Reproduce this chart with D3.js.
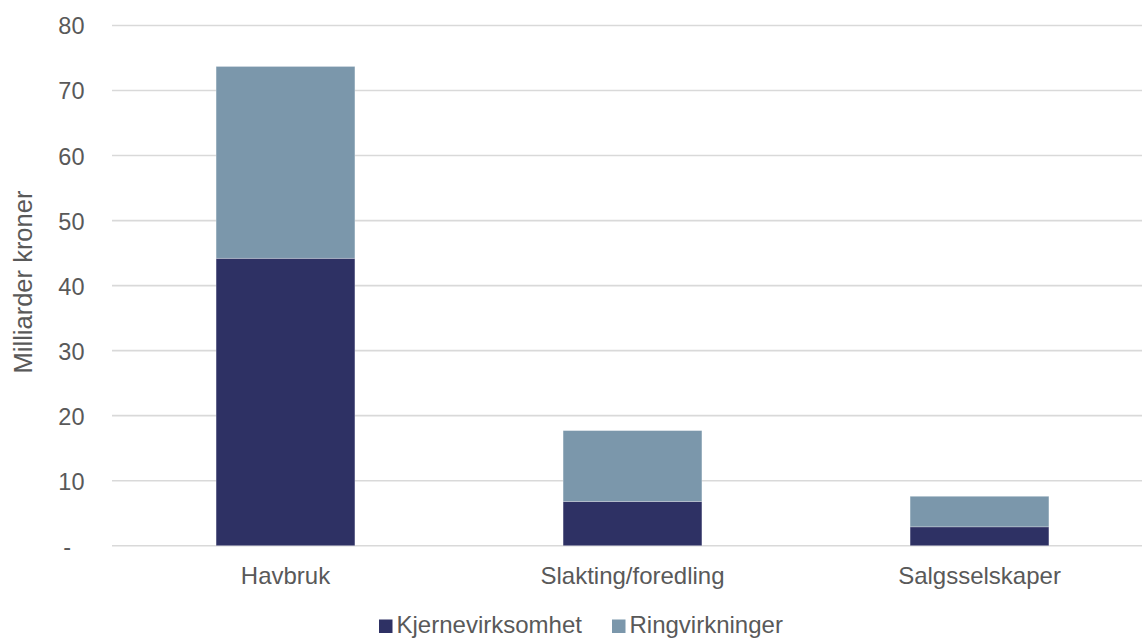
<!DOCTYPE html>
<html>
<head>
<meta charset="utf-8">
<script src="https://cdn.jsdelivr.net/npm/d3@7"></script>
<style>
  html, body { margin: 0; padding: 0; background: #fff; }
  svg { display: block; font-family: "Liberation Sans", Arial, sans-serif; }
</style>
</head>
<body>
<svg id="chart" width="1142" height="639"></svg>
<script>
const categories = ["Havbruk", "Slakting/foredling", "Salgsselskaper"];
const seriesNames = ["Kjernevirksomhet", "Ringvirkninger"];
const kjernevirksomhet = [44.2, 6.8, 2.9];
const ringvirkninger = [29.5, 10.9, 4.7];
const yTicks = [0, 10, 20, 30, 40, 50, 60, 70, 80];
const colors = ["#2e3164", "#7b97ab"];

(function () {
const svg = d3.select("#chart");
const W = 1142;
const mLeft = 112, mRight = 1153, mTop = 25.5, mBottom = 545.7;

const x = d3.scaleBand().domain(categories).range([mLeft, mRight])
  .paddingInner(0.6).paddingOuter(0.3);
const y = d3.scaleLinear().domain([0, 80]).range([mBottom, mTop]);

// gridlines
svg.append("g").selectAll("line").data(yTicks).join("line")
  .attr("x1", mLeft).attr("x2", W)
  .attr("y1", d => y(d)).attr("y2", d => y(d))
  .attr("stroke", "#d9d9d9").attr("stroke-width", 1.6);

// y tick labels
const yAxis = d3.axisLeft(y).tickValues(yTicks).tickSize(0).tickPadding(0)
  .tickFormat(d => d === 0 ? "-" : d3.format("d")(d));
const ya = svg.append("g").attr("transform", "translate(84.5,0)").call(yAxis);
ya.select(".domain").remove();
ya.selectAll("text").attr("fill", "#595959").attr("font-size", 23.5)
  .attr("font-family", "Liberation Sans, Arial, sans-serif").attr("dy", "0.36em");
ya.selectAll(".tick").filter(d => d === 0).select("text").attr("x", -13.5);

// stacked data
const table = categories.map((c, i) => ({ cat: c, Kjernevirksomhet: kjernevirksomhet[i], Ringvirkninger: ringvirkninger[i] }));
const stack = d3.stack().keys(seriesNames)(table);

svg.append("g").selectAll("g").data(stack).join("g")
  .attr("fill", (d, i) => colors[i])
  .selectAll("rect").data(d => d).join("rect")
  .attr("x", d => x(d.data.cat))
  .attr("width", x.bandwidth())
  .attr("y", d => y(d[1]))
  .attr("height", d => y(d[0]) - y(d[1]))
  .attr("stroke", "#ffffff").attr("stroke-opacity", 0.35).attr("stroke-width", 0.75);

// x labels
svg.append("g").selectAll("text").data(categories).join("text")
  .attr("x", d => x(d) + x.bandwidth() / 2)
  .attr("y", 584)
  .attr("text-anchor", "middle")
  .attr("fill", "#595959").attr("font-size", 24)
  .text(d => d);

// y title
svg.append("text")
  .attr("transform", "translate(32,282) rotate(-90)")
  .attr("text-anchor", "middle")
  .attr("fill", "#595959").attr("font-size", 25.5)
  .text("Milliarder kroner");

// legend
const legendX = [379, 612];
const lg = svg.append("g").selectAll("g").data(seriesNames).join("g")
  .attr("transform", (d, i) => `translate(${legendX[i]},0)`);
lg.append("rect").attr("x", 0).attr("y", 619.5).attr("width", 13.5).attr("height", 13.5)
  .attr("fill", (d, i) => colors[i]);
lg.append("text").attr("x", 17.5).attr("y", 633)
  .attr("fill", "#595959").attr("font-size", 24)
  .text(d => d);
})();
</script>
</body>
</html>
